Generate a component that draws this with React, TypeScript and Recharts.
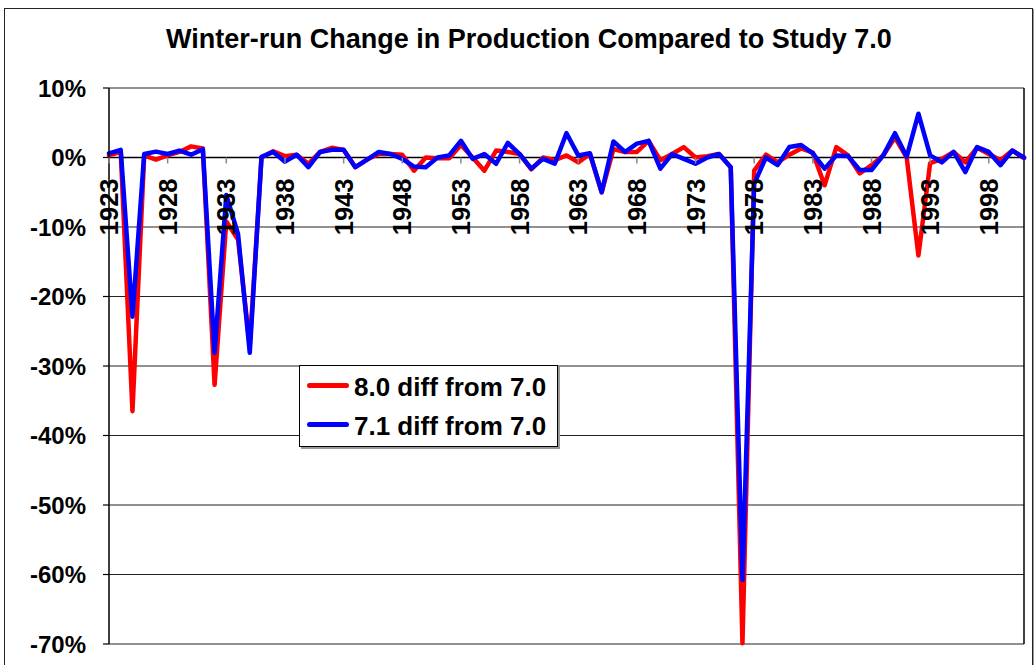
import React from "react";
import {
  LineChart,
  Line,
  XAxis,
  YAxis,
  CartesianGrid,
  ReferenceLine,
  ReferenceDot,
  Legend,
} from "recharts";

const FIRST_YEAR = 1923;
const LAST_YEAR = 2001;

const years: number[] = Array.from(
  { length: LAST_YEAR - FIRST_YEAR + 1 },
  (_, i) => FIRST_YEAR + i
);

// 8.0 diff from 7.0 (percent), 1923..2001
const study80: number[] = [
  0.3, 0.8, -36.5, 0.3, -0.3, 0.3, 0.8, 1.6, 1.3, -32.7,
  -9.2, -11.8, -27.1, 0.0, 0.9, 0.2, 0.4, -0.9, 0.8, 1.4,
  1.1, -1.4, -0.3, 0.5, 0.5, 0.4, -1.9, 0.0, -0.1, -0.1,
  1.8, 0.0, -1.9, 1.0, 0.8, 0.5, -1.7, 0.0, -0.4, 0.3,
  -0.7, 0.5, -5.0, 1.2, 0.8, 0.8, 2.4, -0.4, 0.5, 1.5,
  0.0, 0.2, 0.5, -1.4, -69.9, -1.9, 0.4, -0.7, 0.4, 1.3,
  0.7, -4.0, 1.5, 0.3, -2.3, -1.1, 0.3, 2.9, 0.0, -14.1,
  -0.8, -0.2, 0.8, -0.7, 1.4, 0.5, -0.4, 1.0, -0.1,
];

// 7.1 diff from 7.0 (percent), 1923..2001
const study71: number[] = [
  0.6, 1.1, -22.9, 0.5, 0.85, 0.5, 1.0, 0.4, 1.2, -28.1,
  -5.4, -11.0, -28.1, 0.1, 0.8, -0.6, 0.4, -1.4, 0.8, 1.1,
  1.1, -1.4, -0.3, 0.8, 0.5, -0.2, -1.3, -1.4, 0.0, 0.3,
  2.4, -0.2, 0.5, -0.9, 2.1, 0.5, -1.6, -0.2, -0.9, 3.5,
  0.3, 0.6, -5.0, 2.3, 0.8, 2.0, 2.4, -1.6, 0.5, -0.2,
  -0.9, 0.0, 0.5, -1.4, -60.8, -3.8, 0.0, -1.1, 1.5, 1.8,
  0.6, -1.6, 0.3, 0.2, -1.8, -1.8, 0.3, 3.5, 0.1, 6.3,
  0.3, -0.7, 0.8, -2.1, 1.5, 0.8, -1.1, 1.0, 0.0,
];

const xTicks: number[] = [1923, 1928, 1933, 1938, 1943, 1948, 1953, 1958, 1963, 1968, 1973, 1978, 1983, 1988, 1993, 1998];
const yTicks: number[] = [-70, -60, -50, -40, -30, -20, -10, 0, 10];

const SERIES_80 = "8.0 diff from 7.0";
const SERIES_71 = "7.1 diff from 7.0";
const legendOrder: string[] = ["s80", "s71"];

const data = years.map((year, i) => ({
  year,
  s80: study80[i],
  s71: study71[i],
}));

const FONT = "'Liberation Sans', Arial, sans-serif";

const XTickMark = (label: string) => (props: any) => {
  const { cx, cy } = props;
  if (cx == null || cy == null) return <g />;
  return (
    <g>
      <line x1={cx} y1={cy} x2={cx} y2={cy + 6} stroke="#888" strokeWidth={1.5} />
      <text
        x={cx}
        y={cy + 21}
        transform={`rotate(-90, ${cx}, ${cy + 21})`}
        textAnchor="end"
        dominantBaseline="central"
        fontFamily={FONT}
        fontWeight="bold"
        fontSize={25.5}
        fill="#000"
      >
        {label}
      </text>
    </g>
  );
};

const LegendBox = (props: any) => {
  const payload = [...(props.payload || [])].sort(
    (a: any, b: any) =>
      legendOrder.indexOf(String(a.dataKey)) - legendOrder.indexOf(String(b.dataKey))
  );
  return (
    <div
      style={{
        width: 257,
        height: 78,
        border: "1px solid #000",
        background: "#fff",
        boxShadow: "2px 2px 0 #999",
        paddingTop: 2,
        boxSizing: "content-box",
      }}
    >
      {payload.map((entry: any) => (
        <div
          key={entry.value}
          style={{ display: "flex", alignItems: "center", height: 39 }}
        >
          <div
            style={{
              marginLeft: 7,
              width: 42,
              height: 5,
              borderRadius: 3,
              background: entry.color,
              marginTop: -4,
            }}
          />
          <span
            style={{
              marginLeft: 5,
              fontFamily: FONT,
              fontWeight: "bold",
              fontSize: 26,
              lineHeight: "39px",
              color: "#000",
              whiteSpace: "nowrap",
            }}
          >
            {entry.value}
          </span>
        </div>
      ))}
    </div>
  );
};

export default function App() {
  return (
    <div
      style={{
        position: "absolute",
        left: 0,
        top: 0,
        width: 1035,
        height: 665,
        background: "#fff",
        overflow: "hidden",
      }}
    >
      <div
        style={{
          position: "absolute",
          left: 4,
          top: 8,
          width: 1027,
          height: 700,
          border: "1.5px solid #222",
          boxShadow: "1px 1px 0 #999",
        }}
      />
      <div
        style={{
          position: "absolute",
          left: 0,
          top: 24,
          width: 1058,
          height: 30,
          lineHeight: "30px",
          textAlign: "center",
          fontFamily: FONT,
          fontWeight: "bold",
          fontSize: 27,
          color: "#000",
          whiteSpace: "nowrap",
        }}
      >
        Winter-run Change in Production Compared to Study 7.0
      </div>
      <div style={{ position: "absolute", left: 0, top: 0 }}>
        <LineChart
          width={1035}
          height={665}
          data={data}
          margin={{ top: 88, right: 11, bottom: 21, left: 0 }}
        >
          <CartesianGrid vertical={false} stroke="#222" strokeWidth={1.2} />
          <XAxis
            dataKey="year"
            type="number"
            domain={[FIRST_YEAR, LAST_YEAR]}
            ticks={xTicks}
            hide
          />
          <YAxis
            type="number"
            domain={[-70, 10]}
            ticks={yTicks}
            interval={0}
            width={109}
            axisLine={{ stroke: "#000", strokeWidth: 1.5 }}
            tickLine={{ stroke: "#000", strokeWidth: 1.2 }}
            tickSize={6}
            tickMargin={17}
            tickFormatter={(v: number) => `${v}%`}
            tick={{
              fontFamily: FONT,
              fontWeight: "bold",
              fontSize: 24,
              fill: "#000",
            }}
          />
          <ReferenceLine y={0} stroke="#000" strokeWidth={1.5} />
          <ReferenceLine x={LAST_YEAR} stroke="#000" strokeWidth={1.5} />
          {xTicks.map((t) => (
            <ReferenceDot
              key={t}
              x={t}
              y={0}
              r={0}
              ifOverflow="visible"
              shape={XTickMark(String(t))}
            />
          ))}
          <Line
            type="linear"
            dataKey="s80"
            name={SERIES_80}
            stroke="#FF0000"
            strokeWidth={4.5}
            strokeLinejoin="round"
            strokeLinecap="round"
            dot={false}
            activeDot={false}
            isAnimationActive={false}
          />
          <Line
            type="linear"
            dataKey="s71"
            name={SERIES_71}
            stroke="#0000FF"
            strokeWidth={4.5}
            strokeLinejoin="round"
            strokeLinecap="round"
            dot={false}
            activeDot={false}
            isAnimationActive={false}
          />
          <Legend
            layout="vertical"
            align="center"
            verticalAlign="middle"
            content={LegendBox}
            wrapperStyle={{ left: 299, top: 365, width: 260, height: 82 }}
          />
        </LineChart>
      </div>
    </div>
  );
}
